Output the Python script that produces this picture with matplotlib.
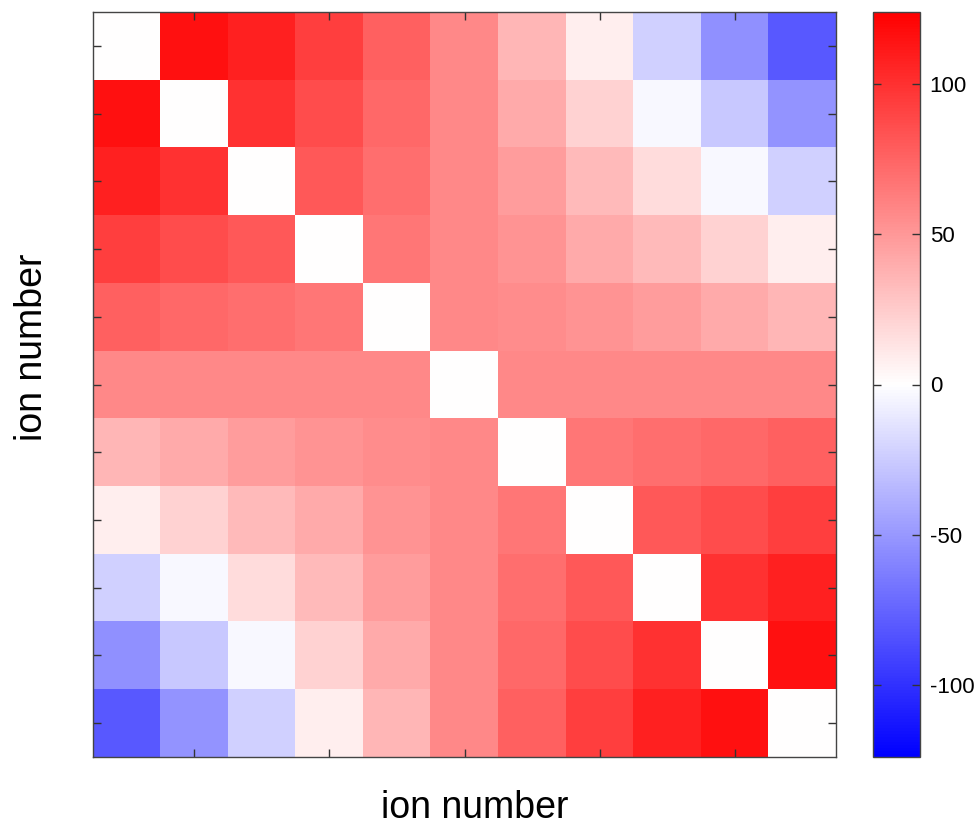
import matplotlib
matplotlib.use("Agg")
import matplotlib.pyplot as plt
import numpy as np

plt.rcParams['font.family'] = ['Liberation Sans', 'DejaVu Sans']
plt.rcParams['axes.unicode_minus'] = False

# Pairwise coupling between ions (diagonal left empty -> 0)
ion_count = 11
row_00 = [0, 116, 108, 93, 77, 58, 35, 8, -23, -54, -81]
row_01 = [116, 0, 99, 87, 73, 58, 41, 22, -3, -27, -52]
row_02 = [108, 99, 0, 81, 70, 58, 48, 33, 17, -3, -23]
row_03 = [93, 87, 81, 0, 66, 58, 52, 41, 33, 22, 8]
row_04 = [77, 73, 70, 66, 0, 58, 56, 52, 48, 41, 35]
row_05 = [58, 58, 58, 58, 58, 0, 58, 58, 58, 58, 58]
row_06 = [35, 41, 48, 52, 56, 58, 0, 66, 70, 73, 77]
row_07 = [8, 22, 33, 41, 52, 58, 66, 0, 81, 87, 93]
row_08 = [-23, -3, 17, 33, 48, 58, 70, 81, 0, 99, 108]
row_09 = [-54, -27, -3, 22, 41, 58, 73, 87, 99, 0, 116]
row_10 = [-81, -52, -23, 8, 35, 58, 77, 93, 108, 116, 0]

coupling = np.array([row_00, row_01, row_02, row_03, row_04, row_05,
                     row_06, row_07, row_08, row_09, row_10], dtype=float)

color_limit = 124
cbar_ticks = [-100, -50, 0, 50, 100]
x_tick_positions = [1, 3, 5, 7, 9]
y_tick_positions = list(range(ion_count))

fig = plt.figure(figsize=(9.77, 8.27), dpi=100)
ax = fig.add_axes([93 / 977, 1 - 757 / 827, 743 / 977, 745 / 827])

im = ax.imshow(coupling, cmap='bwr', vmin=-color_limit, vmax=color_limit,
               interpolation='nearest', aspect='auto')

ax.set_xticks(x_tick_positions)
ax.set_yticks(y_tick_positions)
ax.set_xticklabels([])
ax.set_yticklabels([])
ax.tick_params(axis='both', direction='in', length=6, width=1,
               top=True, bottom=True, left=True, right=True, color='#333333')
for spine in ax.spines.values():
    spine.set_linewidth(1.0)
    spine.set_color('#444444')

ax.set_xlabel('ion number', fontsize=27)
ax.set_ylabel('ion number', fontsize=27)
ax.xaxis.set_label_coords(0.514, -0.044)
ax.yaxis.set_label_coords(-0.058, 0.55)

cax = fig.add_axes([873 / 977, 1 - 757 / 827, 47 / 977, 745 / 827])
cbar = fig.colorbar(im, cax=cax, ticks=cbar_ticks)
cbar.ax.tick_params(direction='in', length=6, width=1, left=True, right=True,
                    labelsize=16, pad=7, color='#333333')
cbar.outline.set_linewidth(1.0)
cbar.outline.set_edgecolor('#444444')

fig.savefig('out.png', dpi=100)
